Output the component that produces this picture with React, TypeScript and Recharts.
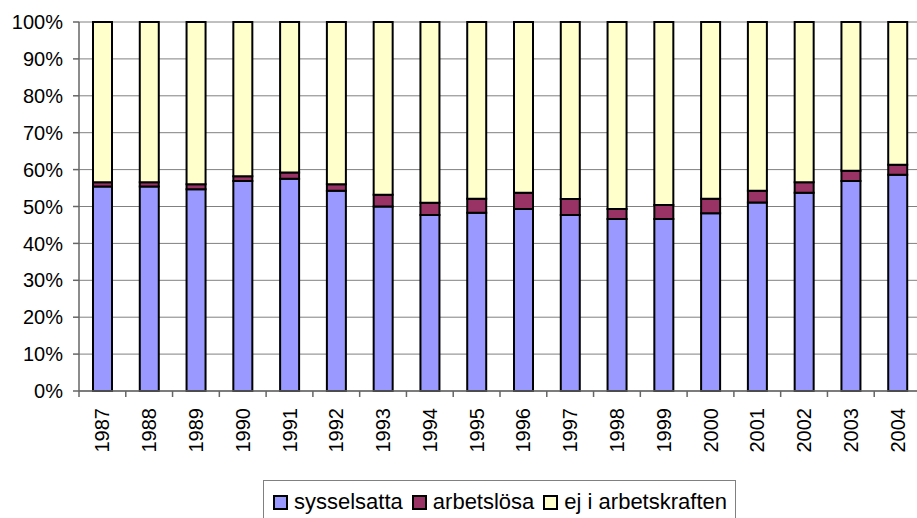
import React from 'react'
import { Bar, BarChart, CartesianGrid, XAxis, YAxis } from 'recharts'

const years: string[] = [
  '1987', '1988', '1989', '1990', '1991', '1992', '1993', '1994', '1995',
  '1996', '1997', '1998', '1999', '2000', '2001', '2002', '2003', '2004',
]

// andel av befolkningen, procent
const sysselsatta: number[] = [
  55.4, 55.4, 54.7, 56.9, 57.5, 54.3, 50.0, 47.7, 48.3,
  49.3, 47.7, 46.6, 46.6, 48.2, 51.1, 53.7, 56.9, 58.6,
]
const arbetslosa: number[] = [
  1.2, 1.2, 1.3, 1.3, 1.7, 1.7, 3.2, 3.3, 3.8,
  4.4, 4.3, 2.7, 3.8, 3.9, 3.2, 2.9, 2.8, 2.7,
]
const ejIArbetskraften: number[] = [
  43.4, 43.4, 44.0, 41.8, 40.8, 44.0, 46.8, 49.0, 47.9,
  46.3, 48.0, 50.7, 49.6, 47.9, 45.7, 43.4, 40.3, 38.7,
]

const yTicks: number[] = [0, 10, 20, 30, 40, 50, 60, 70, 80, 90, 100]

const seriesInfo = [
  { key: 'sysselsatta', label: 'sysselsatta', color: '#9999FF' },
  { key: 'arbetslosa', label: 'arbetslösa', color: '#993366' },
  { key: 'ej', label: 'ej i arbetskraften', color: '#FFFFCC' },
]

const data = years.map((year, i) => ({
  year,
  sysselsatta: sysselsatta[i],
  arbetslosa: arbetslosa[i],
  ej: ejIArbetskraften[i],
}))

const CHART_W = 925
const CHART_H = 518
const MARGIN = { top: 22, right: 4, left: 0, bottom: 0 }
const Y_AXIS_W = 79
const BAND = (CHART_W - MARGIN.left - MARGIN.right - Y_AXIS_W) / years.length
const FONT = '"Liberation Sans", Arial, sans-serif'

const YearTick = (props: any) => {
  const { x, y, payload, index } = props
  const half = BAND / 2
  return (
    <g>
      <line x1={x - half} y1={y} x2={x - half} y2={y + 6} stroke="#666" strokeWidth={1.5} />
      {index === years.length - 1 && (
        <line x1={x + half} y1={y} x2={x + half} y2={y + 6} stroke="#666" strokeWidth={1.5} />
      )}
      <text
        x={x}
        y={y + 17}
        transform={`rotate(-90, ${x}, ${y + 17})`}
        textAnchor="end"
        dominantBaseline="central"
        fontSize={20}
        fontFamily={FONT}
        fill="#000"
      >
        {payload.value}
      </text>
    </g>
  )
}

export default function App() {
  return (
    <div
      style={{
        position: 'absolute',
        left: 0,
        top: 0,
        width: 917,
        height: 518,
        overflow: 'hidden',
        background: '#fff',
        fontFamily: FONT,
      }}
    >
      <BarChart width={CHART_W} height={CHART_H} data={data} margin={MARGIN}>
        <CartesianGrid vertical={false} stroke="#808080" strokeWidth={1} />
        <XAxis
          dataKey="year"
          height={127}
          interval={0}
          axisLine={{ stroke: '#666', strokeWidth: 1.5 }}
          tickLine={false}
          tickSize={0}
          tickMargin={0}
          tick={<YearTick />}
        />
        <YAxis
          width={Y_AXIS_W}
          domain={[0, 100]}
          ticks={yTicks}
          interval={0}
          tickFormatter={(v: number) => `${v}%`}
          axisLine={{ stroke: '#666', strokeWidth: 1.5 }}
          tickLine={{ stroke: '#666', strokeWidth: 1.5 }}
          tickSize={6}
          tickMargin={10}
          tick={{ fill: '#000', fontSize: 20, fontFamily: FONT }}
        />
        {seriesInfo.map((s) => (
          <Bar
            key={s.key}
            dataKey={s.key}
            stackId="a"
            fill={s.color}
            stroke="#000"
            strokeWidth={2}
            barSize={19}
            isAnimationActive={false}
          />
        ))}
      </BarChart>
      <div
        style={{
          position: 'absolute',
          left: 263,
          top: 480,
          width: 473,
          height: 50,
          border: '1px solid #808080',
          boxSizing: 'border-box',
          display: 'flex',
          alignItems: 'flex-start',
          paddingTop: 10,
          paddingLeft: 9,
          fontSize: 22,
          color: '#000',
          whiteSpace: 'nowrap',
        }}
      >
        {seriesInfo.map((s) => (
          <div key={s.key} style={{ display: 'flex', alignItems: 'center', marginRight: 9 }}>
            <span
              style={{
                display: 'inline-block',
                width: 11,
                height: 11,
                background: s.color,
                border: '2px solid #000',
                marginRight: 6,
              }}
            />
            <span style={{ lineHeight: '22px' }}>{s.label}</span>
          </div>
        ))}
      </div>
    </div>
  )
}
